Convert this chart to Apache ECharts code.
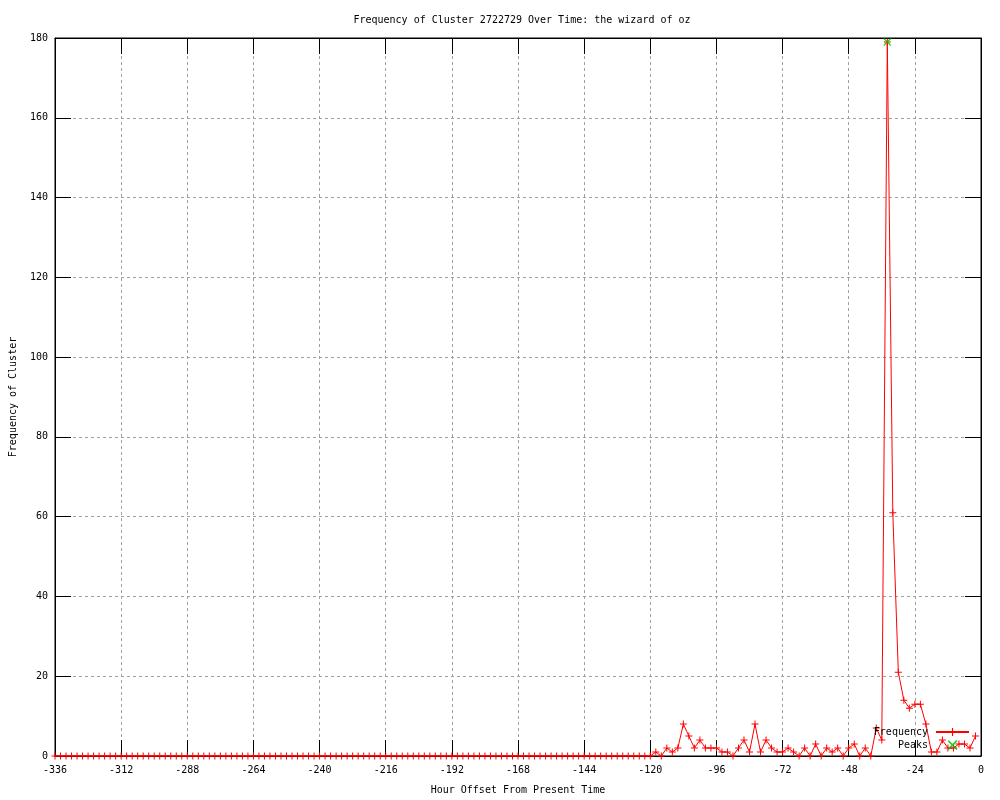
<!DOCTYPE html>
<html>
<head>
<meta charset="utf-8">
<title>Frequency of Cluster 2722729</title>
<script src="https://cdn.jsdelivr.net/npm/echarts@6/dist/echarts.min.js"></script>
<style>
  html, body { margin: 0; padding: 0; background: #fff; }
  #chart { width: 1000px; height: 800px; }
</style>
</head>
<body>
<div id="chart"></div>
<script>
  // hour offsets (x) and cluster frequency (y)
  var hours = [
    -336, -334, -332, -330, -328, -326, -324, -322, -320, -318, -316, -314,
    -312, -310, -308, -306, -304, -302, -300, -298, -296, -294, -292, -290,
    -288, -286, -284, -282, -280, -278, -276, -274, -272, -270, -268, -266,
    -264, -262, -260, -258, -256, -254, -252, -250, -248, -246, -244, -242,
    -240, -238, -236, -234, -232, -230, -228, -226, -224, -222, -220, -218,
    -216, -214, -212, -210, -208, -206, -204, -202, -200, -198, -196, -194,
    -192, -190, -188, -186, -184, -182, -180, -178, -176, -174, -172, -170,
    -168, -166, -164, -162, -160, -158, -156, -154, -152, -150, -148, -146,
    -144, -142, -140, -138, -136, -134, -132, -130, -128, -126, -124, -122,
    -120, -118, -116, -114, -112, -110, -108, -106, -104, -102, -100, -98,
    -96, -94, -92, -90, -88, -86, -84, -82, -80, -78, -76, -74,
    -72, -70, -68, -66, -64, -62, -60, -58, -56, -54, -52, -50,
    -48, -46, -44, -42, -40, -38, -36, -34, -32, -30, -28, -26,
    -24, -22, -20, -18, -16, -14, -12, -10, -8, -6, -4, -2
  ];
  var frequency = [
    0, 0, 0, 0, 0, 0, 0, 0, 0, 0, 0, 0,
    0, 0, 0, 0, 0, 0, 0, 0, 0, 0, 0, 0,
    0, 0, 0, 0, 0, 0, 0, 0, 0, 0, 0, 0,
    0, 0, 0, 0, 0, 0, 0, 0, 0, 0, 0, 0,
    0, 0, 0, 0, 0, 0, 0, 0, 0, 0, 0, 0,
    0, 0, 0, 0, 0, 0, 0, 0, 0, 0, 0, 0,
    0, 0, 0, 0, 0, 0, 0, 0, 0, 0, 0, 0,
    0, 0, 0, 0, 0, 0, 0, 0, 0, 0, 0, 0,
    0, 0, 0, 0, 0, 0, 0, 0, 0, 0, 0, 0,
    0, 1, 0, 2, 1, 2, 8, 5, 2, 4, 2, 2,
    2, 1, 1, 0, 2, 4, 1, 8, 1, 4, 2, 1,
    1, 2, 1, 0, 2, 0, 3, 0, 2, 1, 2, 0,
    2, 3, 0, 2, 0, 7, 4, 179, 61, 21, 14, 12,
    13, 13, 8, 1, 1, 4, 2, 2, 3, 3, 2, 5
  ];
  var peakHours = [-34];
  var peakValues = [179];

  var font = 'DejaVu Sans Mono';
  var plusIcon = 'path://M0,3h7v1h-7z M3,0h1v7h-1z';
  var crossIcon = 'path://M0,1L1,0L8,7L7,8Z M7,0L8,1L1,8L0,7Z';

  var freqData = hours.map(function (h, i) { return [h, frequency[i]]; });
  var peakData = peakHours.map(function (h, i) { return [h, peakValues[i]]; });

  var gridLine = { show: true, lineStyle: { color: '#a0a0a0', type: [3, 3], width: 1 } };
  var axisLine = { show: true, onZero: false, lineStyle: { color: '#000', width: 1 } };
  var tick = { show: true, inside: true, length: 16, lineStyle: { color: '#000' } };

  var option = {
    animation: false,
    backgroundColor: '#fff',
    title: {
      text: 'Frequency of Cluster 2722729 Over Time: the wizard of oz',
      left: 517, textAlign: 'center', top: 10,
      textStyle: { fontFamily: font, fontSize: 10, fontWeight: 'normal', color: '#000' }
    },
    grid: {
      left: 55, right: 19, top: 38, bottom: 40,
      show: true, borderColor: '#000', borderWidth: 1, backgroundColor: 'transparent'
    },
    legend: {
      orient: 'vertical', right: 30, top: 727, padding: 0,
      align: 'right', itemWidth: 33, itemHeight: 10, itemGap: 3,
      textStyle: { fontFamily: font, fontSize: 10, color: '#000', padding: [0, 3, 0, 0] },
      data: [
        { name: 'Frequency' },
        { name: 'Peaks', icon: crossIcon }
      ]
    },
    xAxis: [{
      type: 'value', min: -336, max: 0, interval: 24,
      name: 'Hour Offset From Present Time', nameLocation: 'middle', nameGap: 29,
      nameTextStyle: { fontFamily: font, fontSize: 10, color: '#000' },
      axisLine: axisLine, axisTick: tick, splitLine: gridLine,
      axisLabel: { fontFamily: font, fontSize: 10, color: '#000', margin: 9 }
    }, {
      type: 'value', min: -336, max: 0, interval: 24, position: 'top',
      axisLine: axisLine, axisTick: tick, splitLine: { show: false },
      axisLabel: { show: false }
    }],
    yAxis: [{
      type: 'value', min: 0, max: 180, interval: 20,
      name: 'Frequency of Cluster', nameLocation: 'middle', nameGap: 37,
      nameTextStyle: { fontFamily: font, fontSize: 10, color: '#000' },
      axisLine: axisLine, axisTick: tick, splitLine: gridLine,
      axisLabel: { fontFamily: font, fontSize: 10, color: '#000', margin: 7 }
    }, {
      type: 'value', min: 0, max: 180, interval: 20, position: 'right',
      axisLine: axisLine, axisTick: tick, splitLine: { show: false },
      axisLabel: { show: false }
    }],
    series: [{
      name: 'Frequency',
      type: 'line',
      data: freqData,
      symbol: plusIcon,
      symbolSize: 7,
      showAllSymbol: true,
      lineStyle: { color: '#ff0000', width: 1 },
      itemStyle: { color: '#ff0000', borderWidth: 0 },
      emphasis: { disabled: true }
    }, {
      name: 'Peaks',
      type: 'scatter',
      data: peakData,
      symbol: crossIcon,
      symbolSize: 8,
      itemStyle: { color: '#00c000', borderWidth: 0 },
      emphasis: { disabled: true },
      z: 3
    }]
  };

  var myChart = echarts.init(document.getElementById('chart'));
  myChart.setOption(option);
</script>
</body>
</html>
